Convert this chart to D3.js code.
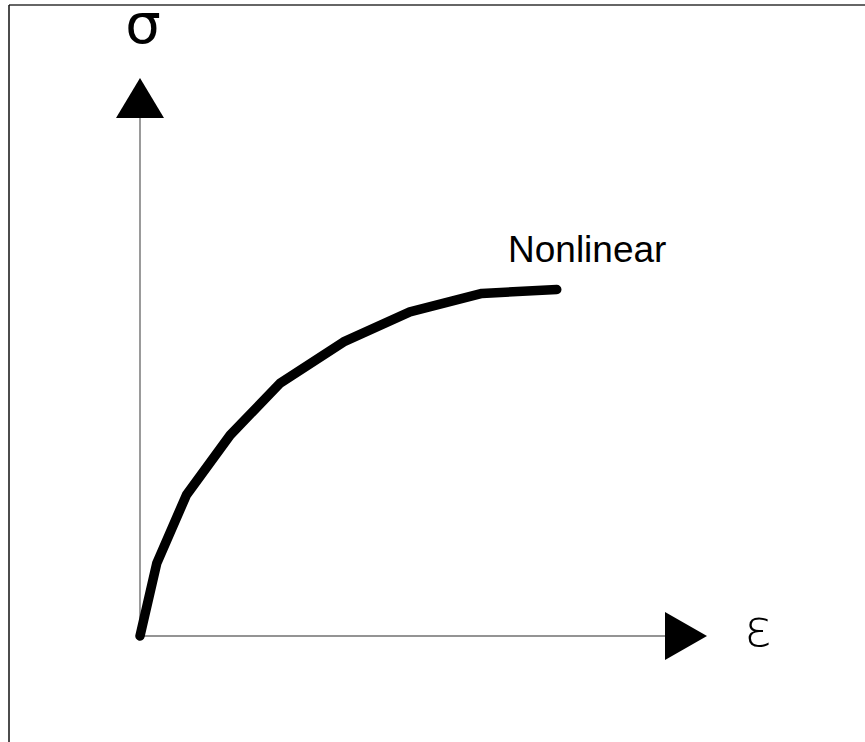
<!DOCTYPE html>
<html>
<head>
<meta charset="utf-8">
<script src="https://cdn.jsdelivr.net/npm/d3@7"></script>
<style>
  body { margin: 0; background: #fff; }
  svg { display: block; }
</style>
</head>
<body>
<div id="chart"></div>
<script>
// strain / stress samples of the curve (fraction of axis length)
const strain = [0, 0.0295, 0.082, 0.159, 0.247, 0.359, 0.476, 0.603, 0.735];
const stress = [0, 0.130, 0.253, 0.360, 0.453, 0.527, 0.581, 0.614, 0.621];
const curveLabel = "Nonlinear";
const xLabel = "\u03B5";
const yLabel = "\u03C3";

const width = 865, height = 742;
const svg = d3.select("#chart").append("svg")
    .attr("width", width)
    .attr("height", height);

// frame, only top and left edges show
svg.append("line").attr("x1", 9).attr("y1", 5).attr("x2", width).attr("y2", 5)
    .attr("stroke", "#333").attr("stroke-width", 1.5);
svg.append("line").attr("x1", 9).attr("y1", 5).attr("x2", 9).attr("y2", height)
    .attr("stroke", "#111").attr("stroke-width", 1.5);

let x = d3.scaleLinear().domain([0, 1]).range([140, 707]);
let y = d3.scaleLinear().domain([0, 1]).range([636, 78]);

// axes
svg.append("line")
    .attr("x1", x(0)).attr("y1", y(0)).attr("x2", x(0)).attr("y2", y(0.93))
    .attr("stroke", "#707070").attr("stroke-width", 1.4);
svg.append("line")
    .attr("x1", x(0)).attr("y1", y(0)).attr("x2", x(0.93)).attr("y2", y(0))
    .attr("stroke", "#707070").attr("stroke-width", 1.4);

// arrow heads
let yTip = y(1), xTip = x(1);
svg.append("path")
    .attr("d", `M${x(0)},${yTip} L${x(0) - 24},${yTip + 40} L${x(0) + 24},${yTip + 40} Z`)
    .attr("fill", "#000");
svg.append("path")
    .attr("d", `M${xTip},${y(0)} L${xTip - 42},${y(0) - 24} L${xTip - 42},${y(0) + 24} Z`)
    .attr("fill", "#000");

// curve
let pts = strain.map((s, i) => [s, stress[i]]);
let line = d3.line()
    .x(d => x(d[0]))
    .y(d => y(d[1]));

svg.append("path")
    .datum(pts)
    .attr("d", line)
    .attr("fill", "none")
    .attr("stroke", "#000")
    .attr("stroke-width", 9.5)
    .attr("stroke-linecap", "round")
    .attr("stroke-linejoin", "round");

svg.append("text")
    .attr("x", 508)
    .attr("y", 262)
    .attr("font-family", "'Liberation Sans', Arial, sans-serif")
    .attr("font-size", 37)
    .attr("fill", "#000")
    .text(curveLabel);

// axis symbols
svg.append("text")
    .attr("x", 143)
    .attr("y", 43)
    .attr("text-anchor", "middle")
    .attr("font-family", "'DejaVu Sans', sans-serif")
    .attr("font-size", 56)
    .attr("fill", "#000")
    .text(yLabel);

svg.append("text")
    .attr("x", 758)
    .attr("y", 646)
    .attr("text-anchor", "middle")
    .attr("font-family", "'DejaVu Sans', sans-serif")
    .attr("font-weight", 200)
    .attr("font-size", 52)
    .attr("fill", "#000")
    .text(xLabel);
</script>
</body>
</html>
